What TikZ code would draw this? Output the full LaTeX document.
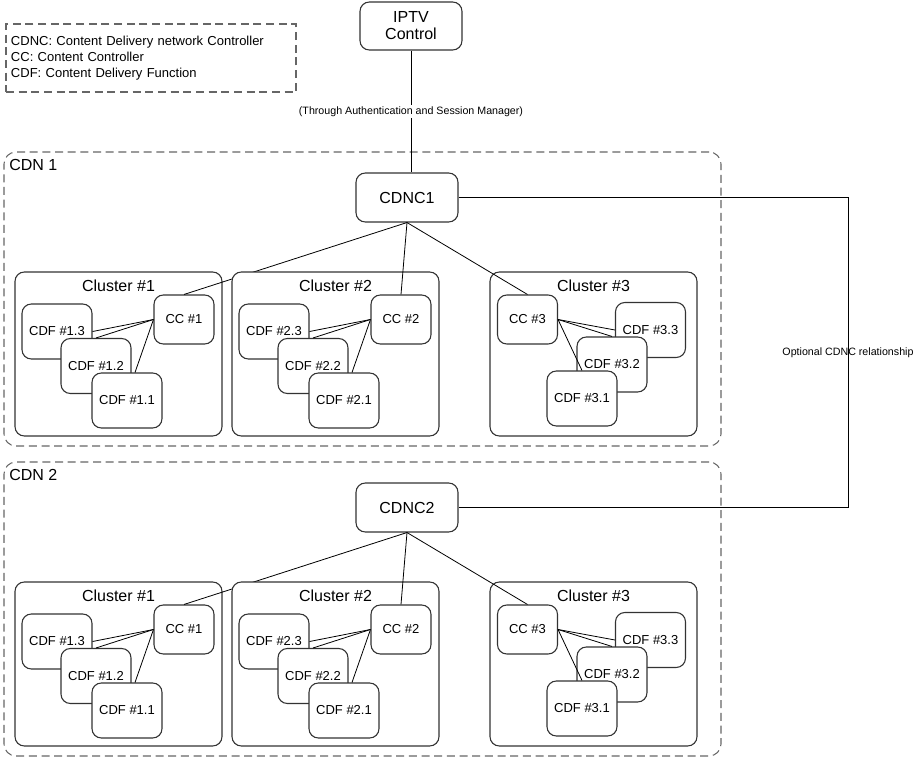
\documentclass[tikz,border=0pt]{standalone}
\usepackage{fontspec}
\setmainfont{Liberation Sans}
\usetikzlibrary{positioning}

\begin{document}
\begin{tikzpicture}[
  x=0.75pt, y=-0.75pt,
  box/.style={draw=black!80, line width=0.8pt, rounded corners=7pt,
              fill=white, inner sep=0pt, align=center},
  cdfbox/.style={box, minimum width=52.5pt, minimum height=41.25pt,
                 font=\fontsize{9.75}{11}\selectfont},
  ccbox/.style={box, minimum width=45pt, minimum height=36.75pt,
                font=\fontsize{9.75}{11}\selectfont},
  ctrlbox/.style={box, minimum width=76.5pt, minimum height=36.75pt,
                  font=\fontsize{12}{12.75}\selectfont},
  clbox/.style={box, minimum width=155.25pt, minimum height=123pt},
  cltitle/.style={font=\fontsize{12}{14}\selectfont, inner sep=0pt},
  dashbox/.style={draw=black!60, line width=0.8pt, dash pattern=on 6pt off 3.5pt,
                  inner sep=0pt},
  cdnbox/.style={dashbox, rounded corners=9pt, minimum width=537.75pt,
                 minimum height=220.5pt},
  legendbox/.style={dashbox, minimum width=217.5pt, minimum height=51pt,
                    text width=210pt, inner xsep=3.75pt, align=left,
                    font=\fontsize{9.75}{12}\selectfont},
  conn/.style={draw=black, line width=0.6pt},
  smalllbl/.style={font=\fontsize{8}{9.5}\selectfont, inner sep=1pt},
]
  \useasboundingbox (0,0) rectangle (918,757);

  % Legend and IPTV control on top
  \node[legendbox] (legend) at (151,58)
    {CDNC: Content Delivery network Controller\\
     CC: Content Controller\\
     CDF: Content Delivery Function};
  \node[ctrlbox, minimum height=36pt] (iptv) at (411,26) {IPTV\\Control};

  % The two CDNs, one below the other
  \foreach \k/\dy in {1/0, 2/310} {
    \begin{scope}[yshift={-\dy*0.75pt}]
      \node[cdnbox] (cdn\k) at (362.5,299) {};
      \node[cltitle, anchor=west] (cdnlbl\k) at (9,165) {CDN \k};
      \node[ctrlbox] (cdnc\k) at (407,197.5) {CDNC\k};

      % Clusters #1 and #2 share one layout
      \foreach \c/\dx in {1/0, 2/217} {
        \begin{scope}[xshift={\dx*0.75pt}]
          \node[clbox] (cl\k-\c) at (118.5,354) {};
          \node[cltitle] (title\k-\c) at (118.5,286) {Cluster \#\c};
          \node[cdfbox] (cdf\k-\c3) at (57,331.5) {CDF \#\c.3};
          \node[cdfbox] (cdf\k-\c2) at (96,366) {CDF \#\c.2};
          \node[cdfbox] (cdf\k-\c1) at (127,400.5) {CDF \#\c.1};
          \node[ccbox] (cc\k-\c) at (184,319.5) {CC \#\c};
        \end{scope}
        \draw[conn] (cc\k-\c.west) -- (cdf\k-\c3.east);
        \draw[conn] (cc\k-\c.west) -- (cdf\k-\c2.north);
        \draw[conn] (cc\k-\c.west) -- ([xshift=6pt]cdf\k-\c1.north);
        \draw[conn] (cdnc\k.south) -- (cc\k-\c.north);
      }

      % Cluster #3 is mirrored
      \node[clbox] (cl\k-3) at (593.5,354) {};
      \node[cltitle] (title\k-3) at (593.5,286) {Cluster \#3};
      \node[cdfbox] (cdf\k-33) at (650.5,330) {CDF \#3.3};
      \node[cdfbox] (cdf\k-32) at (612,364.5) {CDF \#3.2};
      \node[cdfbox] (cdf\k-31) at (582,398.5) {CDF \#3.1};
      \node[ccbox] (cc\k-3) at (527.5,319.5) {CC \#3};
      \draw[conn] (cc\k-3.east) -- (cdf\k-33.west);
      \draw[conn] (cc\k-3.east) -- (cdf\k-32.north);
      \draw[conn] (cc\k-3.east) -- (cdf\k-31.north);
      \draw[conn] (cdnc\k.south) -- (cc\k-3.north);
    \end{scope}
  }

  % IPTV to CDNC1
  \draw[conn] (iptv.south) -- (iptv.south |- cdnc1.north)
    node[midway, smalllbl, fill=white] {(Through Authentication and Session Manager)};

  % CDNC to CDNC
  \coordinate (bend) at (848,0);
  \draw[conn] (cdnc1.east) -- (cdnc1.east -| bend) |- (cdnc2.east)
    node[pos=0.25, smalllbl] {Optional CDNC relationship};
\end{tikzpicture}
\end{document}
